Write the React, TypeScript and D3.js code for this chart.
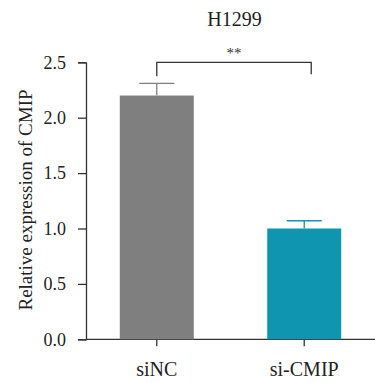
import React, { useRef, useEffect } from 'react';
import { select, scaleLinear, scalePoint, axisLeft } from 'd3';

const categories = ['siNC', 'si-CMIP'];
const means = [2.2, 1.0];
const errors = [0.11, 0.07];
const barColors = ['#7f7f7f', '#0f95b0'];
const yTicks = [0.0, 0.5, 1.0, 1.5, 2.0, 2.5];
const title = 'H1299';
const yLabel = 'Relative expression of CMIP';
const sigLabel = '**';

const FONT = '"Liberation Serif", "DejaVu Serif", serif';

export default function App() {
  const svgRef = useRef<SVGSVGElement>(null);

  useEffect(() => {
    const svg = select(svgRef.current);
    svg.selectAll('*').remove();

    const left = 86;
    const right = 375;
    const top = 62.3;
    const bottom = 339.3;

    // scales
    const y = scaleLinear().domain([0, 2.5]).range([bottom, top]);
    const x = scalePoint<string>().domain(categories).range([left, right]).padding(0.48);
    const barW = 74;

    // y axis
    const yAxis = axisLeft(y)
      .tickValues(yTicks)
      .tickSize(8)
      .tickPadding(12)
      .tickFormat((d) => (d as number).toFixed(1));
    const gy = svg.append('g').attr('transform', `translate(${left},0)`).call(yAxis);
    gy.attr('font-family', FONT);
    gy.select('.domain').attr('stroke', '#333').attr('stroke-width', 1.3);
    gy.selectAll('.tick line').attr('stroke', '#333').attr('stroke-width', 1.3);
    gy.selectAll('.tick text')
      .attr('font-family', FONT)
      .attr('font-size', 18)
      .attr('fill', '#222');

    // x axis
    const gx = svg.append('g').attr('transform', `translate(0,${bottom})`);
    gx.append('line')
      .attr('x1', left)
      .attr('x2', right)
      .attr('stroke', '#333')
      .attr('stroke-width', 1.3);
    categories.forEach((c) => {
      const cx = x(c) as number;
      gx.append('line')
        .attr('x1', cx)
        .attr('x2', cx)
        .attr('y1', 0)
        .attr('y2', 7)
        .attr('stroke', '#333')
        .attr('stroke-width', 1.3);
      gx.append('text')
        .attr('x', cx)
        .attr('y', 37)
        .attr('text-anchor', 'middle')
        .attr('font-family', FONT)
        .attr('font-size', 20)
        .attr('fill', '#222')
        .text(c);
    });

    // bars + error bars
    categories.forEach((c, i) => {
      const cx = x(c) as number;
      svg.append('rect')
        .attr('x', cx - barW / 2)
        .attr('y', y(means[i]))
        .attr('width', barW)
        .attr('height', y(0) - y(means[i]))
        .attr('fill', barColors[i]);
      svg.append('line')
        .attr('x1', cx)
        .attr('x2', cx)
        .attr('y1', y(means[i]))
        .attr('y2', y(means[i] + errors[i]))
        .attr('stroke', barColors[i])
        .attr('stroke-width', 1.3);
      svg.append('line')
        .attr('x1', cx - 17.5)
        .attr('x2', cx + 17.5)
        .attr('y1', y(means[i] + errors[i]))
        .attr('y2', y(means[i] + errors[i]))
        .attr('stroke', barColors[i])
        .attr('stroke-width', 1.3);
    });

    // significance bracket
    const bx1 = x(categories[0]) as number;
    const bx2 = (x(categories[1]) as number) + 7;
    const by = y(2.5);
    svg.append('path')
      .attr('d', `M${bx1},${by + 14}V${by}H${bx2}V${by + 12}`)
      .attr('fill', 'none')
      .attr('stroke', '#333')
      .attr('stroke-width', 1.3);
    svg.append('text')
      .attr('x', (bx1 + bx2) / 2)
      .attr('y', by - 4)
      .attr('text-anchor', 'middle')
      .attr('font-family', FONT)
      .attr('font-size', 15)
      .attr('fill', '#333')
      .text(sigLabel);

    // title
    svg.append('text')
      .attr('x', 234.5)
      .attr('y', 26)
      .attr('text-anchor', 'middle')
      .attr('font-family', FONT)
      .attr('font-size', 20)
      .attr('fill', '#222')
      .text(title);

    // y label
    svg.append('text')
      .attr('transform', `translate(32,200) rotate(-90)`)
      .attr('text-anchor', 'middle')
      .attr('font-family', FONT)
      .attr('font-size', 19)
      .attr('fill', '#222')
      .text(yLabel);
  }, []);

  return (
    <svg
      ref={svgRef}
      width={375}
      height={383}
      style={{ position: 'absolute', left: 0, top: 0, background: '#fff' }}
    />
  );
}
